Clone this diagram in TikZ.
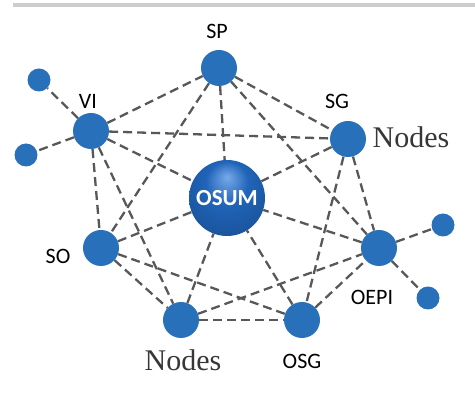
\documentclass[tikz,border=0pt]{standalone}
\usepackage{fontspec}
\setmainfont{Liberation Serif}
\setsansfont{Carlito}
\usetikzlibrary{backgrounds}
\definecolor{nodeblue}{RGB}{40, 112, 186}
\definecolor{osumblue}{RGB}{32, 100, 185}
\definecolor{osumlight}{RGB}{120, 170, 232}
\definecolor{dashgray}{RGB}{88, 88, 88}
\definecolor{textgray}{RGB}{55, 55, 55}
\definecolor{rulegray}{RGB}{205, 205, 205}
\pgfdeclareradialshading{osumball}{\pgfpoint{0bp}{14bp}}{%
  color(0bp)=(osumlight); color(14bp)=(osumblue); color(30bp)=(osumblue!85!black); color(50bp)=(osumblue!45!black)}

\begin{document}
\begin{tikzpicture}[x=1pt, y=-1pt,
  bignode/.style={circle, fill=nodeblue, minimum size=36pt, inner sep=0pt},
  leafnode/.style={circle, fill=nodeblue, minimum size=23pt, inner sep=0pt},
  link/.style={draw=dashgray, line width=2.3pt, dash pattern=on 9pt off 5pt},
  tag/.style={font=\sffamily\fontsize{22}{26}\selectfont, text=black},
  bigtag/.style={font=\fontsize{30}{34}\selectfont, text=textgray}]

  \useasboundingbox (0,0) rectangle (475,398);

  % rule at the top
  \fill[rulegray] (13,3.5) rectangle (475,7);

  % central sphere
  \node[circle, minimum size=76pt, inner sep=0pt, shading=osumball,
        font=\sffamily\bfseries\fontsize{23}{26}\selectfont, text=white] (osum) at (227,198) {OSUM};

  % ring of nodes
  \node[bignode] (sp)   at (219,68)  {};
  \node[bignode] (vi)   at (91,131)  {};
  \node[bignode] (sg)   at (348,139) {};
  \node[bignode] (so)   at (101,248) {};
  \node[bignode] (oepi) at (379,248) {};
  \node[bignode] (nbl)  at (181,320) {};
  \node[bignode] (osg)  at (302,320) {};

  % outer leaves
  \node[leafnode] (vitop)   at (39,80)   {};
  \node[leafnode] (vileft)  at (26,155)  {};
  \node[leafnode] (oepitop) at (443,225) {};
  \node[leafnode] (oepibot) at (428,298) {};

  % labels
  \node[tag] (tsp)   at (217,31)  {SP};
  \node[tag] (tvi)   at (88,101)  {VI};
  \node[tag] (tsg)   at (337,101) {SG};
  \node[tag] (tso)   at (58,256)  {SO};
  \node[tag] (toepi) at (372,297) {OEPI};
  \node[tag] (tosg)  at (302,361) {OSG};
  \node[bigtag] (tnr) at (411,137) {Nodes};
  \node[bigtag] (tnb) at (183,360) {Nodes};

  % dashed links
  \begin{scope}[on background layer]
    \foreach \a/\b in {vi/sp, vi/sg, vi/osum, vi/so, vi/nbl, vi/vitop, vi/vileft,
                       sp/sg, sp/osum, sp/so, sp/oepi,
                       sg/osum, sg/osg, sg/oepi,
                       so/osum, so/nbl, so/osg,
                       nbl/osum, nbl/osg, nbl/oepi,
                       osg/osum, osg/oepi,
                       oepi/osum, oepi/oepitop, oepi/oepibot}
      \draw[link] (\a) -- (\b);
  \end{scope}
\end{tikzpicture}
\end{document}
